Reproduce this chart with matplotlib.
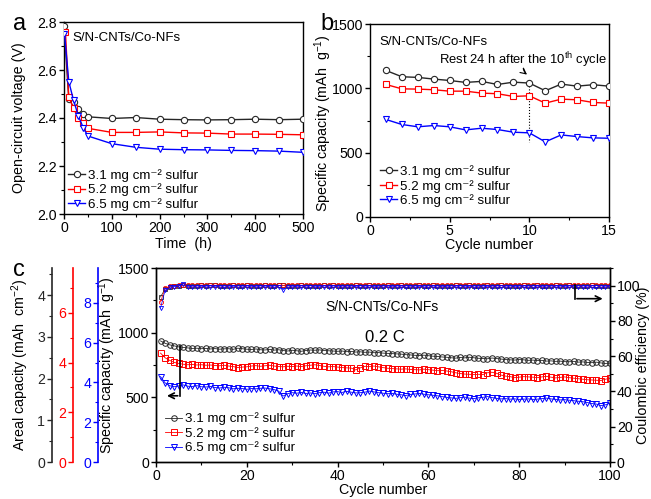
import matplotlib
matplotlib.use('Agg')
import matplotlib.pyplot as plt
from matplotlib.ticker import MultipleLocator

plt.rcParams['font.family'] = ['Liberation Sans', 'DejaVu Sans']
plt.rcParams['mathtext.fontset'] = 'custom'
plt.rcParams['mathtext.rm'] = 'Liberation Sans'
plt.rcParams['mathtext.it'] = 'Liberation Sans:italic'
plt.rcParams['mathtext.bf'] = 'Liberation Sans:bold'
plt.rcParams['axes.linewidth'] = 1.0

# ---------------- data ----------------
labels = ['3.1 mg cm\u207b\u00b2 sulfur', '5.2 mg cm\u207b\u00b2 sulfur', '6.5 mg cm\u207b\u00b2 sulfur']

# panel a: open-circuit voltage vs time
time_black = [0, 10, 20, 30, 40, 50, 100, 150, 200, 250, 300, 350, 400, 450, 500]
ocv_black = [2.785, 2.48, 2.465, 2.438, 2.415, 2.405, 2.398, 2.402, 2.395, 2.393, 2.392, 2.393, 2.395, 2.393, 2.395]
time_red = [3, 10, 20, 30, 40, 50, 100, 150, 200, 250, 300, 350, 400, 450, 500]
ocv_red = [2.758, 2.487, 2.44, 2.40, 2.378, 2.357, 2.340, 2.340, 2.342, 2.338, 2.337, 2.333, 2.333, 2.332, 2.330]
time_blue = [1, 10, 20, 30, 40, 50, 100, 150, 200, 250, 300, 350, 400, 450, 500]
ocv_blue = [2.751, 2.552, 2.473, 2.41, 2.36, 2.325, 2.293, 2.278, 2.27, 2.268, 2.267, 2.265, 2.264, 2.262, 2.257]

# panel b: rest test
cycles_b = list(range(1, 16))
cap_b_black = [1139, 1090, 1085, 1072, 1061, 1046, 1054, 1030, 1048, 1041, 981, 1033, 1017, 1028, 1017]
cap_b_red = [1030, 996, 994, 989, 978, 978, 963, 958, 937, 942, 885, 916, 911, 890, 885]
cap_b_blue = [758, 719, 701, 711, 701, 677, 690, 680, 659, 654, 584, 638, 625, 615, 612]

# panel c: long cycling at 0.2 C
cycles_c = list(range(1, 101))
cap_c_black = [936, 918, 906, 898, 890, 886, 882, 878, 880, 876,
               878, 874, 877, 872, 875, 876, 871, 880, 876, 872,
               870, 874, 868, 866, 871, 865, 868, 862, 858, 864,
               860, 856, 862, 866, 864, 867, 862, 860, 858, 856,
               858, 853, 855, 850, 852, 848, 850, 845, 846, 842,
               840, 838, 836, 834, 830, 828, 825, 823, 826, 822,
               818, 816, 812, 810, 806, 803, 808, 805, 810, 806,
               802, 800, 798, 804, 800, 796, 792, 790, 788, 792,
               790, 786, 788, 784, 786, 780, 782, 778, 780, 776,
               775, 778, 772, 774, 770, 768, 772, 766, 762, 765]
cap_c_red = [842, 806, 786, 770, 762, 756, 752, 754, 750, 752,
             748, 750, 746, 744, 748, 742, 738, 730, 734, 736,
             742, 745, 740, 744, 748, 742, 738, 736, 740, 738,
             742, 738, 744, 748, 752, 746, 740, 736, 738, 734,
             730, 728, 726, 712, 728, 740, 738, 742, 736, 730,
             725, 722, 720, 718, 720, 716, 714, 712, 718, 714,
             710, 706, 708, 704, 698, 690, 684, 680, 678, 676,
             678, 676, 690, 694, 686, 672, 664, 660, 652, 656,
             660, 658, 656, 652, 658, 662, 656, 650, 654, 658,
             652, 648, 644, 640, 636, 634, 632, 630, 640, 648]
cap_c_blue = [660, 612, 590, 582, 588, 596, 586, 584, 590, 582,
              580, 584, 576, 572, 578, 574, 566, 570, 568, 562,
              568, 566, 570, 572, 566, 560, 548, 510, 528, 536,
              532, 538, 530, 534, 528, 536, 540, 532, 542, 544,
              538, 546, 540, 534, 536, 540, 548, 542, 536, 532,
              528, 530, 524, 520, 514, 522, 526, 530, 524, 520,
              516, 512, 506, 500, 496, 492, 498, 502, 494, 490,
              496, 500, 506, 498, 492, 488, 490, 486, 488, 484,
              486, 488, 484, 486, 490, 494, 488, 484, 480, 482,
              478, 474, 470, 466, 460, 452, 448, 436, 442, 456]
ce_black = [93.6, 98.1, 99.4, 99.8, 100.0, 100.1, 100.0, 99.9, 100.0, 100.1,
            100.0, 100.2, 100.1, 100.0, 99.9, 100.0, 100.1, 100.0, 100.0, 100.1,
            100.0, 99.9, 100.0, 100.1, 100.0, 100.0, 100.2, 100.1, 100.0, 99.9,
            100.0, 100.1, 100.0, 100.0, 99.9, 100.0, 100.1, 100.0, 100.2, 100.0,
            100.0, 99.9, 100.0, 100.1, 100.0, 100.0, 100.1, 100.0, 99.9, 100.0,
            100.1, 100.0, 100.0, 100.1, 100.0, 99.9, 100.0, 100.1, 100.0, 100.0,
            100.2, 100.0, 100.0, 99.9, 100.0, 100.1, 100.0, 100.0, 100.1, 100.0,
            99.9, 100.0, 100.1, 100.0, 100.0, 100.1, 100.0, 99.9, 100.0, 100.0,
            100.1, 100.0, 100.0, 100.1, 100.0, 99.9, 100.0, 100.1, 100.0, 100.0,
            100.1, 100.0, 99.9, 100.0, 100.0, 100.1, 100.0, 100.0, 99.9, 100.0]
ce_red = [90.7, 98.5, 99.6, 100.0, 100.2, 100.3, 100.2, 100.1, 100.2, 100.3,
          100.2, 100.1, 100.2, 100.3, 100.2, 100.2, 100.1, 100.2, 100.3, 100.2,
          100.2, 100.1, 100.2, 100.2, 100.3, 100.2, 100.1, 100.2, 100.2, 100.3,
          100.2, 100.2, 100.1, 100.2, 100.3, 100.2, 100.2, 100.1, 100.2, 100.3,
          100.2, 100.2, 100.1, 100.2, 100.2, 100.3, 100.2, 100.1, 100.2, 100.2,
          100.3, 100.2, 100.4, 100.2, 100.1, 100.2, 100.2, 100.3, 100.2, 100.1,
          100.2, 100.2, 100.3, 100.2, 100.1, 100.2, 100.2, 100.3, 100.2, 100.2,
          100.1, 100.2, 100.3, 100.2, 100.2, 100.1, 100.2, 100.2, 100.3, 100.2,
          100.2, 100.1, 100.2, 100.3, 100.2, 100.2, 100.4, 100.2, 100.1, 100.2,
          100.2, 100.3, 100.2, 100.2, 100.1, 100.2, 100.3, 100.2, 100.2, 100.3]
ce_blue = [87.3, 97.3, 99.0, 99.4, 99.6, 101.2, 99.5, 99.3, 99.2, 99.4,
           99.3, 99.2, 99.4, 99.3, 99.1, 99.3, 99.4, 99.2, 99.3, 99.2,
           99.4, 99.3, 99.2, 99.3, 99.4, 99.2, 99.3, 97.8, 99.2, 99.3,
           99.4, 99.2, 99.3, 99.1, 99.3, 99.4, 99.2, 99.3, 99.2, 99.4,
           99.3, 99.2, 99.3, 99.4, 99.1, 99.3, 99.2, 99.4, 99.3, 99.2,
           99.3, 99.4, 99.2, 99.3, 99.1, 99.3, 99.2, 99.4, 99.3, 99.2,
           99.3, 99.2, 99.4, 99.3, 99.2, 99.3, 99.1, 99.3, 99.4, 99.2,
           99.3, 99.2, 99.4, 99.3, 99.2, 99.1, 99.3, 99.2, 99.4, 99.3,
           99.2, 99.3, 99.1, 99.3, 99.4, 99.2, 99.3, 99.2, 99.3, 99.4,
           99.2, 99.3, 99.1, 99.2, 99.3, 99.2, 99.0, 99.2, 99.3, 99.2]

# ---------------- style ----------------
BLK, RED, BLU = '#262626', '#ff0000', '#0000ff'
W, H = 651, 499
FS = 10.2
LFS = 10.3
LEG = 9.6


def rect(l, t, r, b):
    return [l / W, 1 - b / H, (r - l) / W, (b - t) / H]


def style(ax):
    ax.tick_params(which='both', direction='out', labelsize=FS, top=False, right=False, pad=1.5)
    ax.tick_params(which='major', length=3.5, width=1.0)
    ax.tick_params(which='minor', length=2, width=0.8)


leg_kw = dict(loc='lower left', frameon=False, fontsize=LEG, handlelength=1.3,
              handletextpad=0.2, labelspacing=0.12, borderaxespad=0.0, borderpad=0.0)

fig = plt.figure(figsize=(6.51, 4.99), dpi=100)

# ---------------- panel a ----------------
axa = fig.add_axes(rect(64, 22, 303, 214))
mk = dict(mfc='white', ms=4.5, mew=0.8, lw=1.0)
axa.plot(time_black, ocv_black, '-o', color=BLK, mec=BLK, label=labels[0], zorder=3, **mk)
axa.plot(time_red, ocv_red, '-s', color=RED, mec=RED, label=labels[1], zorder=3, **mk)
axa.plot(time_blue, ocv_blue, '-v', color=BLU, mec=BLU, label=labels[2], zorder=3, **mk)
axa.set_xlim(0, 500)
axa.set_ylim(2.0, 2.8)
axa.xaxis.set_major_locator(MultipleLocator(100))
axa.xaxis.set_minor_locator(MultipleLocator(50))
axa.yaxis.set_major_locator(MultipleLocator(0.2))
axa.yaxis.set_minor_locator(MultipleLocator(0.1))
axa.yaxis.set_major_formatter(plt.FormatStrFormatter('%.1f'))
style(axa)
axa.set_xlabel('Time  (h)', fontsize=LFS)
axa.set_ylabel('Open-circuit voltage (V)', fontsize=LFS)
axa.xaxis.set_label_coords(0.5, -0.12)
axa.yaxis.set_label_coords(-0.157, 0.5)
axa.text(0.035, 0.915, 'S/N-CNTs/Co-NFs', transform=axa.transAxes, fontsize=9.5, va='center')
axa.legend(bbox_to_anchor=(0.017, 0.016), **leg_kw)
fig.text(13 / W, 1 - 30 / H, 'a', fontsize=17)

# ---------------- panel b ----------------
axb = fig.add_axes(rect(370, 24, 609, 217))
axb.plot(cycles_b, cap_b_black, '-o', color=BLK, mec=BLK, label=labels[0], zorder=3, **mk)
axb.plot(cycles_b, cap_b_red, '-s', color=RED, mec=RED, label=labels[1], zorder=3, **mk)
axb.plot(cycles_b, cap_b_blue, '-v', color=BLU, mec=BLU, label=labels[2], zorder=3, **mk)
axb.set_xlim(0, 15)
axb.set_ylim(0, 1500)
axb.xaxis.set_major_locator(MultipleLocator(5))
axb.xaxis.set_minor_locator(MultipleLocator(2.5))
axb.yaxis.set_major_locator(MultipleLocator(500))
axb.yaxis.set_minor_locator(MultipleLocator(250))
style(axb)
axb.set_xlabel('Cycle number', fontsize=LFS)
axb.set_ylabel('Specific capacity (mAh  g$^{-1}$)', fontsize=LFS)
axb.xaxis.set_label_coords(0.5, -0.11)
axb.yaxis.set_label_coords(-0.15, 0.485)
axb.text(0.038, 0.907, 'S/N-CNTs/Co-NFs', transform=axb.transAxes, fontsize=9.5, va='center')
axb.text(0.64, 0.813, 'Rest 24 h after the 10$^{\\rm th}$ cycle', transform=axb.transAxes,
         fontsize=9.4, va='center', ha='center')
axb.annotate('', xy=(10, 1095), xytext=(9.6, 1175),
             arrowprops=dict(arrowstyle='->', lw=0.8, color='k', connectionstyle='arc3,rad=0.3'))
axb.plot([10, 10], [1065, 580], ':', color='k', lw=0.8)
axb.legend(bbox_to_anchor=(0.042, 0.052), **leg_kw)
fig.text(320 / W, 1 - 30 / H, 'b', fontsize=17)

# ---------------- panel c ----------------
axc = fig.add_axes(rect(156, 268, 610, 462))
mkc = dict(mfc='none', ms=4.0, mew=0.7, lw=0.6)
axc.plot(cycles_c, cap_c_black, '-o', color=BLK, mec=BLK, label=labels[0], **mkc)
axc.plot(cycles_c, cap_c_red, '-s', color=RED, mec=RED, label=labels[1], **mkc)
axc.plot(cycles_c, cap_c_blue, '-v', color=BLU, mec=BLU, label=labels[2], **mkc)
axc.set_xlim(0, 100)
axc.set_ylim(0, 1500)
axc.xaxis.set_major_locator(MultipleLocator(20))
axc.xaxis.set_minor_locator(MultipleLocator(10))
axc.yaxis.set_major_locator(MultipleLocator(500))
axc.yaxis.set_minor_locator(MultipleLocator(250))
style(axc)
axc.set_xlabel('Cycle number', fontsize=LFS)
axc.set_ylabel('Specific capacity (mAh  g$^{-1}$)', fontsize=LFS)
axc.xaxis.set_label_coords(0.5, -0.11)
axc.yaxis.set_label_coords(-0.083, 0.5)
axc.text(0.498, 0.80, 'S/N-CNTs/Co-NFs', transform=axc.transAxes, fontsize=10, ha='center', va='center')
axc.text(0.504, 0.64, '0.2 C', transform=axc.transAxes, fontsize=12, ha='center', va='center')
axc.plot([5.3, 5.3], [900, 512], color='k', lw=1.2)
axc.annotate('', xy=(1.8, 512), xytext=(5.4, 512),
             arrowprops=dict(arrowstyle='->', lw=1.2, color='k'))
axc.legend(bbox_to_anchor=(0.02, 0.04), **leg_kw)

axce = axc.twinx()
mkce = dict(mfc='none', ms=3.0, mew=0.6, lw=0.5)
axce.plot(cycles_c, ce_black, '-s', color=BLK, mec=BLK, **mkce)
axce.plot(cycles_c, ce_red, '-o', color=RED, mec=RED, **mkce)
axce.plot(cycles_c, ce_blue, '-v', color=BLU, mec=BLU, **mkce)
axce.set_ylim(0, 110)
axce.yaxis.set_major_locator(MultipleLocator(20))
axce.yaxis.set_minor_locator(MultipleLocator(10))
axce.tick_params(which='both', direction='out', labelsize=FS, pad=1.5)
axce.tick_params(which='major', length=3.5, width=1.0)
axce.tick_params(which='minor', length=2, width=0.8)
axce.set_ylabel('Coulombic efficiency (%)', fontsize=LFS)
axce.yaxis.set_label_coords(1.058, 0.5)
axce.plot([92.2, 92.2], [100.5, 92.6], color='k', lw=1.2)
axce.annotate('', xy=(99.0, 92.6), xytext=(92.1, 92.6),
              arrowprops=dict(arrowstyle='->', lw=1.2, color='k'))

# areal capacity axes (left of panel c)
for xpos, col, top, minor, ticks in [(52, BLK, 4.65, 0.5, [0, 1, 2, 3, 4]),
                                     (73, RED, 7.8, 1, [0, 2, 4, 6]),
                                     (98, BLU, 9.75, 1, [0, 2, 4, 6, 8])]:
    ax2 = fig.add_axes(rect(xpos, 268, xpos + 1, 462))
    ax2.set_ylim(0, top)
    ax2.set_xticks([])
    for s in ['top', 'right', 'bottom']:
        ax2.spines[s].set_visible(False)
    ax2.spines['left'].set_color(col)
    ax2.spines['left'].set_linewidth(1.2)
    ax2.patch.set_visible(False)
    ax2.set_yticks(ticks)
    ax2.yaxis.set_minor_locator(MultipleLocator(minor))
    ax2.tick_params(which='both', direction='out', colors=col, labelsize=FS, pad=1.5)
    ax2.tick_params(which='major', length=3.5, width=1.0)
    ax2.tick_params(which='minor', length=2, width=0.8)

fig.text(20 / W, 1 - 365 / H, 'Areal capacity (mAh  cm$^{-2}$)', rotation=90,
         fontsize=LFS, ha='center', va='center')
fig.text(13 / W, 1 - 276 / H, 'c', fontsize=17)

fig.savefig('out.png', dpi=100)
